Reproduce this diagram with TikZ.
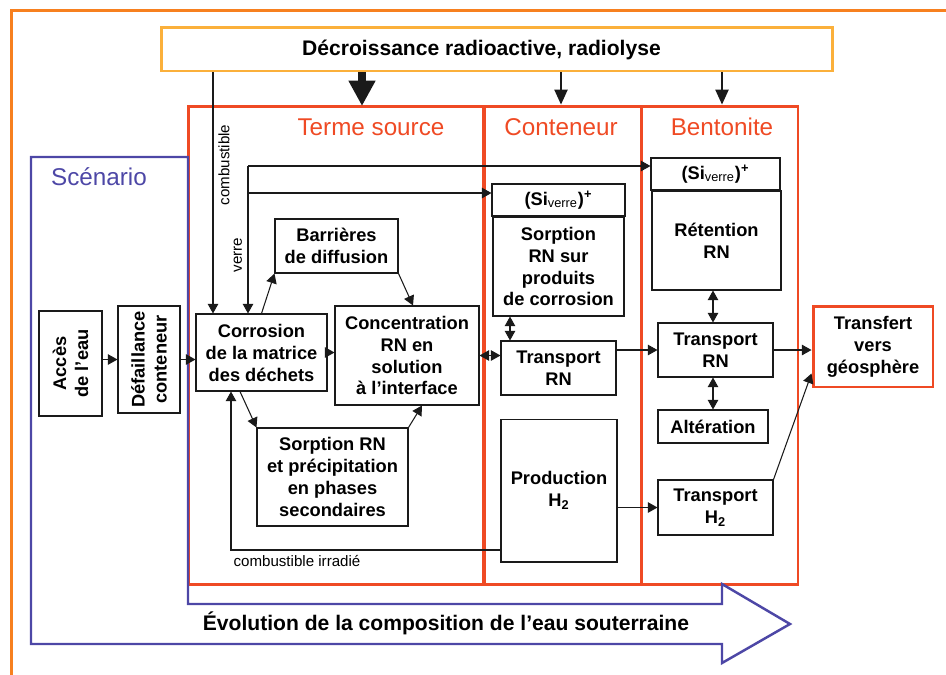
\documentclass[tikz,border=0pt]{standalone}
\usepackage{fontspec}
\setmainfont{Liberation Sans}
\usetikzlibrary{arrows.meta,calc}
\definecolor{frameorange}{HTML}{F7801F}
\definecolor{decayyellow}{HTML}{FBB03B}
\definecolor{barred}{HTML}{EF4A24}
\definecolor{scenblue}{HTML}{4D47A6}
\definecolor{ink}{HTML}{1A1A1A}

\begin{document}
\begin{tikzpicture}[x=0.02cm,y=-0.02cm,
  procbox/.style={draw=ink, line width=0.6pt, align=center, inner sep=1pt, font=\fontsize{10.4}{12.5}\selectfont\bfseries},
  zone/.style={draw=barred, line width=1.7pt, inner sep=0pt},
  zonetitle/.style={text=barred, font=\fontsize{13.8}{16}\selectfont},
  thinarr/.style={draw=ink, line width=0.6pt, -{Triangle[length=5.5pt,width=6pt]}},
  dblarr/.style={draw=ink, line width=0.6pt, {Triangle[length=5.5pt,width=6pt]}-{Triangle[length=5.5pt,width=6pt]}},
  decayarr/.style={draw=ink, line width=0.9pt, -{Triangle[length=8.5pt,width=7.5pt]}},
  bigarr/.style={draw=ink, line width=4pt, -{Triangle[length=14.5pt,width=14.5pt]}},
  smalllabel/.style={font=\fontsize{8.6}{10}\selectfont, inner sep=1pt}]
\useasboundingbox (0,0) rectangle (946,674);

% outer frame
\draw[frameorange, line width=1.7pt] (11.5,690) -- (11.5,10) -- (960,10);

% decay
\node[draw=decayyellow, line width=1.7pt, minimum width=13.44cm, minimum height=0.88cm, inner sep=0pt] (decr) at (497,49) {};
\node[font=\fontsize{12}{14}\selectfont\bfseries] (decrtext) at (481.5,50) {Décroissance radioactive, radiolyse};

% zones
\node[zone, minimum width=5.92cm, minimum height=9.58cm] (terme) at (336,345.5) {};
\node[zone, minimum width=3.14cm, minimum height=9.58cm] (cont) at (562.5,345.5) {};
\node[zone, minimum width=3.14cm, minimum height=9.58cm] (bento) at (719.5,345.5) {};
\node[zonetitle] (termet) at (371,127) {Terme source};
\node[zonetitle] (contt) at (561,127) {Conteneur};
\node[zonetitle] (bentot) at (722,127) {Bentonite};

% scenario
\draw[scenblue, line width=1.4pt] (31,157) -- (188,157) -- (188,604) -- (722,604) -- (722,584) -- (790,624) -- (722,663) -- (722,644) -- (31,644) -- cycle;
\node[text=scenblue, font=\fontsize{13.8}{16}\selectfont] (scent) at (99,177) {Scénario};
\node[font=\fontsize{12}{14}\selectfont\bfseries] (evol) at (446,623) {Évolution de la composition de l’eau souterraine};

% terme source
\node[procbox, rotate=90, minimum width=2.1cm, minimum height=1.26cm] (acces) at (70.5,363.5) {Accès\\de l’eau};
\node[procbox, rotate=90, minimum width=2.14cm, minimum height=1.24cm] (defail) at (149,359.5) {Défaillance\\conteneur};
\node[procbox, minimum width=2.62cm, minimum height=1.54cm] (corr) at (261.5,352.5) {Corrosion\\de la matrice\\des déchets};
\node[procbox, minimum width=2.46cm, minimum height=1.08cm] (barr) at (336.5,246) {Barrières\\de diffusion};
\node[procbox, minimum width=2.88cm, minimum height=1.98cm] (conc) at (407,355.5) {Concentration\\RN en\\solution\\à l’interface};
\node[procbox, minimum width=3.02cm, minimum height=1.96cm] (sorpp) at (332.5,477) {Sorption RN\\et précipitation\\en phases\\secondaires};

% conteneur
\node[procbox, minimum width=2.66cm, minimum height=0.64cm] (sic) at (558.5,200) {(Si\textsubscript{\mdseries verre})\textsuperscript{+}};
\node[procbox, minimum width=2.62cm, minimum height=1.98cm] (sorpc) at (558.5,266.5) {Sorption\\RN sur\\produits\\de corrosion};
\node[procbox, minimum width=2.3cm, minimum height=1.08cm] (trc) at (558.5,368) {Transport\\RN};
\node[procbox, minimum width=2.32cm, minimum height=2.86cm] (prod) at (559,490.5) {Production\\H\textsubscript{2}};

% bentonite
\node[procbox, minimum width=2.58cm, minimum height=0.64cm] (sib) at (715.5,174) {(Si\textsubscript{\mdseries verre})\textsuperscript{+}};
\node[procbox, minimum width=2.58cm, minimum height=1.98cm] (ret) at (716.5,240.5) {Rétention\\RN};
\node[procbox, minimum width=2.3cm, minimum height=1.08cm] (trb) at (715.5,350) {Transport\\RN};
\node[procbox, minimum width=2.2cm, minimum height=0.66cm] (alt) at (713,426.5) {Altération};
\node[procbox, minimum width=2.3cm, minimum height=1.1cm] (trh) at (715.5,507.5) {Transport\\H\textsubscript{2}};
\node[procbox, draw=barred, line width=1.7pt, minimum width=2.4cm, minimum height=1.62cm] (transf) at (873,346.5) {Transfert\\vers\\géosphère};

% decay arrows
\coordinate (dterme) at (362,106);
\draw[bigarr] (decr.south -| dterme) -- (dterme);
\draw[decayarr] (decr.south -| contt) -- (cont.north -| contt);
\draw[decayarr] (decr.south -| bentot) -- (bento.north -| bentot);

% combustible / verre
\coordinate (comb) at (213,150);
\draw[thinarr] (decr.south -| comb) -- (corr.north -| comb);
\node[smalllabel, rotate=90] (combl) at (224,165) {combustible};
\coordinate (vbento) at (248,166);
\coordinate (vcont) at (248,193);
\draw[thinarr] (vbento) -- (corr.north -| vbento);
\draw[thinarr] (vbento) -- (sib.west |- vbento);
\draw[thinarr] (vcont) -- (sic.west |- vcont);
\node[smalllabel, rotate=90] (verrel) at (238,255) {verre};
\coordinate (irr) at (231,550);
\draw[thinarr] (prod.west |- irr) -- (irr) -- (corr.south -| irr);
\node[smalllabel] (irrl) at (297,561) {combustible irradié};

% process arrows
\draw[thinarr] (defail.north -| acces.south) -- (defail.north);
\draw[thinarr] (defail.south) -- (corr.west |- defail.south);
\draw[thinarr] (corr.east) -- (conc.west |- corr.east);
\draw[thinarr] (corr.north) -- (barr.south west);
\draw[thinarr] (barr.south east) -- ([xshift=0.12cm]conc.north);
\draw[thinarr] ([xshift=-0.43cm]corr.south) -- (sorpp.north west);
\draw[thinarr] (sorpp.north east) -- ([xshift=0.3cm]conc.south);
\draw[dblarr] (conc.east) -- (trc.west |- conc.east);
\coordinate (xsorp) at (510,330);
\draw[dblarr] (sorpc.south -| xsorp) -- (trc.north -| xsorp);
\draw[thinarr] (trb.west -| trc.east) -- (trb.west);
\draw[thinarr] (trh.west -| prod.east) -- (trh.west);
\draw[dblarr] (ret.south -| alt.north) -- (trb.north -| alt.north);
\draw[dblarr] (trb.south -| alt.north) -- (alt.north);
\draw[thinarr] (trb.east) -- (transf.west |- trb.east);
\draw[thinarr] (trh.north east) -- ([yshift=0.3cm]transf.south west);
\end{tikzpicture}
\end{document}
